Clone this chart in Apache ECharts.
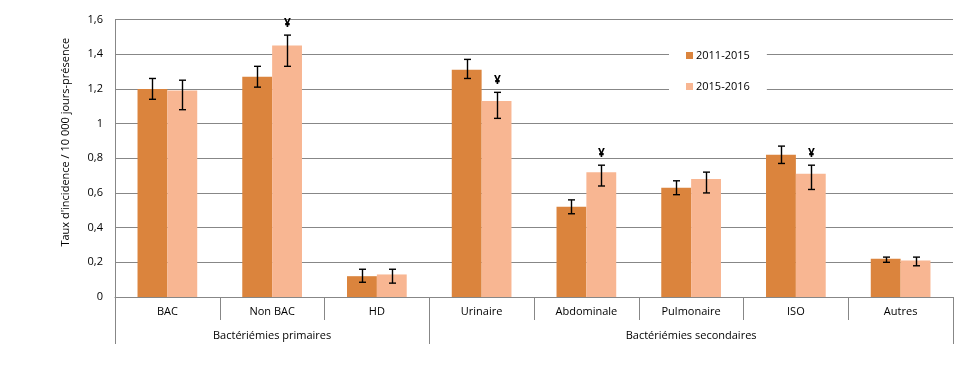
<!DOCTYPE html>
<html><head><meta charset="utf-8">
<script src="https://cdn.jsdelivr.net/npm/echarts@6/dist/echarts.min.js"></script>
<style>html,body{margin:0;padding:0;background:#fff}#c{width:979px;height:383px}</style>
</head><body><div id="c"></div>
<script>
const categories = ['BAC','Non BAC','HD','Urinaire','Abdominale','Pulmonaire','ISO','Autres'];
const groups = ['Bactériémies primaires','Bactériémies secondaires'];
const groupSizes = [3,5];
const seriesNames = ['2011-2015','2015-2016'];
const rate1 = [1.20,1.27,0.12,1.31,0.52,0.63,0.82,0.22];
const low1  = [1.14,1.21,0.085,1.26,0.48,0.59,0.77,0.20];
const high1 = [1.26,1.33,0.16,1.37,0.56,0.67,0.87,0.23];
const rate2 = [1.19,1.45,0.13,1.13,0.72,0.68,0.71,0.21];
const low2  = [1.08,1.33,0.08,1.03,0.64,0.60,0.62,0.18];
const high2 = [1.25,1.51,0.16,1.18,0.76,0.72,0.76,0.23];
const sig2  = [0,1,0,1,1,0,1,0];

const FONT = '"Open Sans", "Noto Sans", sans-serif';
const C1 = '#DB843D', C2 = '#F8B692';
const GRID = '#878787';
const GAP = 0.43;

// group boundaries and centres
const bounds = [0]; groupSizes.forEach(s => bounds.push(bounds[bounds.length-1] + s));
const centres = groupSizes.map((s,i) => bounds[i] + s/2);

function errSeries(lo, hi, sig, side){
  return {
    type:'custom', xAxisIndex:0, yAxisIndex:0, z:5, silent:true,
    encode:{x:0, y:[1,2]},
    data: categories.map((c,i)=>[i, lo[i], hi[i], sig ? sig[i] : 0]),
    renderItem:function(params, api){
      const x = api.value(0);
      const pLo = api.coord([x, api.value(1)]);
      const pHi = api.coord([x, api.value(2)]);
      const band = api.size([1,0])[0];
      const bw = band*(1-GAP)/2;
      const cx = Math.round(pLo[0] + side*bw/2) + 0.5;
      const cap = 3.5;
      const st = {stroke:'#000', lineWidth:1.4};
      const children = [
        {type:'line', shape:{x1:cx, y1:pLo[1], x2:cx, y2:pHi[1]}, style:st},
        {type:'line', shape:{x1:cx-cap, y1:pLo[1], x2:cx+cap, y2:pLo[1]}, style:st},
        {type:'line', shape:{x1:cx-cap, y1:pHi[1], x2:cx+cap, y2:pHi[1]}, style:st}
      ];
      if (api.value(3)) {
        children.push({type:'text', style:{text:'¥', x:cx, y:pHi[1]-12, align:'center', verticalAlign:'middle', font:'bold 12px ' + FONT, fill:'#000'}});
      }
      return {type:'group', children};
    }
  };
}

const chart = echarts.init(document.getElementById('c'), null, {renderer:'canvas'});
chart.setOption({
  animation:false,
  backgroundColor:'#fff',
  textStyle:{fontFamily:FONT},
  grid:{left:115, right:26, top:19.5, bottom:86, containLabel:false},
  legend:{
    data:seriesNames, orient:'vertical', left:669, top:44,
    itemWidth:7, itemHeight:7, itemGap:20, icon:'rect',
    backgroundColor:'#fff', padding:[6,17,6,17],
    textStyle:{fontSize:11, color:'#000', fontFamily:FONT, padding:[0,0,0,-2]}
  },
  xAxis:[
    {type:'category', data:categories, position:'bottom',
     axisLine:{lineStyle:{color:GRID, width:1}},
     axisTick:{show:true, interval:0, length:23, lineStyle:{color:GRID}},
     axisLabel:{interval:0, margin:9, fontSize:11, color:'#000', fontFamily:FONT},
     splitLine:{show:false}},
    {type:'value', min:0, max:categories.length, position:'bottom', offset:0,
     axisLine:{show:false},
     axisTick:{show:true, customValues:bounds, length:47, lineStyle:{color:GRID}},
     axisLabel:{show:true, customValues:centres, margin:33, fontSize:11, color:'#000', fontFamily:FONT,
       formatter:function(v){ const i = centres.indexOf(v); return i>=0 ? groups[i] : ''; }},
     splitLine:{show:false}}
  ],
  yAxis:{type:'value', min:0, max:1.6, interval:0.2,
    name:"Taux d'incidence / 10 000 jours-présence", nameLocation:'middle', nameGap:44, nameRotate:90,
    nameTextStyle:{fontSize:11, color:'#000', fontFamily:FONT, padding:[0,0,0,32]},
    axisLine:{show:true, lineStyle:{color:GRID}},
    axisTick:{show:false},
    axisLabel:{fontSize:11, color:'#000', margin:12, fontFamily:FONT,
      formatter:function(v){ return String(Math.round(v*10)/10).replace('.', ','); }},
    splitLine:{show:true, lineStyle:{color:GRID, width:1}}
  },
  series:[
    {name:seriesNames[0], type:'bar', data:rate1, itemStyle:{color:C1}, barGap:'0%', barCategoryGap:(GAP*100)+'%'},
    {name:seriesNames[1], type:'bar', data:rate2, itemStyle:{color:C2}, barGap:'0%', barCategoryGap:(GAP*100)+'%'},
    errSeries(low1, high1, null, -1),
    errSeries(low2, high2, sig2, 1)
  ]
});
</script></body></html>
